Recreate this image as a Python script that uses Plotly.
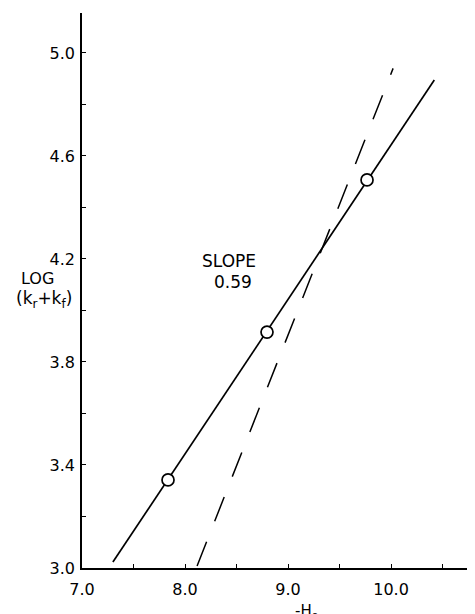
import plotly.graph_objects as go

# measured points (-H0, log(kr+kf))
h0_pts = [7.835, 8.796, 9.767]
logk_pts = [3.342, 3.916, 4.507]

# fitted line, slope 0.59
fit_x = [7.30, 10.42]
fit_y = [3.023, 4.895]

# dashed reference line, slope 1
ref_x = [8.117, 10.02]
ref_y = [3.008, 4.94]

y_major = [3.0, 3.4, 3.8, 4.2, 4.6, 5.0]
y_labels = ["3.0", "3.4", "3.8", "4.2", "4.6", "5.0"]
y_minor = [3.2, 3.6, 4.0, 4.4, 4.8]
x_major = [7.0, 8.0, 9.0, 10.0]
x_labels = ["7.0", "8.0", "9.0", "10.0"]
x_minor = [7.5, 8.5, 9.5, 10.5]

# the page body has an 8px margin, so the figure is shrunk to fit the window
OFF = 8
W, H = 475 - OFF, 614 - OFF
L, R, T = 82 - OFF, 0, 13 - OFF
B = H - T - 555
FONT = "DejaVu Sans"


def px(x, y):
    # window pixel position -> paper coords
    x, y = x - OFF, y - OFF
    return (x - L) / (W - L - R), 1 - (y - T) / (H - T - B)


fig = go.Figure()
fig.add_trace(go.Scatter(x=fit_x, y=fit_y, mode="lines",
                         line=dict(color="black", width=1.7)))
fig.add_trace(go.Scatter(x=ref_x, y=ref_y, mode="lines",
                         line=dict(color="black", width=1.5, dash="26px,22px")))
fig.add_trace(go.Scatter(x=h0_pts, y=logk_pts, mode="markers",
                         marker=dict(symbol="circle", size=12, color="white",
                                     line=dict(color="black", width=1.7))))

fig.update_layout(
    width=W, height=H, showlegend=False,
    margin=dict(l=L, r=R, t=T, b=B, autoexpand=False),
    paper_bgcolor="white", plot_bgcolor="white",
    font=dict(family=FONT, size=16, color="black"),
)
axis_style = dict(ticks="inside", ticklen=4, tickwidth=1.2, tickcolor="black",
                  showline=True, linecolor="black", linewidth=1.5,
                  showgrid=False, zeroline=False, automargin=False)
fig.update_xaxes(range=[7.0, 10.815], tickvals=x_major, ticktext=x_labels,
                 ticklabelstandoff=6,
                 minor=dict(tickvals=x_minor, ticks="inside", ticklen=4,
                            tickcolor="black", showgrid=False),
                 **axis_style)
fig.update_yaxes(range=[3.0, 5.155], tickvals=y_major, ticktext=y_labels,
                 ticklabelstandoff=2,
                 minor=dict(tickvals=y_minor, ticks="inside", ticklen=4,
                            tickcolor="black", showgrid=False),
                 **axis_style)

texts = [
    ("SLOPE", 229, 261, 17),
    ("0.59", 233, 282, 17),
    ("LOG", 37, 278, 16),
    ("(k<sub>r</sub>+k<sub>f</sub>)", 44, 299, 17),
    ("-H<sub>o</sub>", 306, 611, 15),
]
for t, x, y, s in texts:
    ax, ay = px(x, y)
    fig.add_annotation(text=t, x=ax, y=ay, xref="paper", yref="paper",
                       showarrow=False, xanchor="center", yanchor="middle",
                       font=dict(family=FONT, size=s, color="black"))

fig.write_html("out.html")
